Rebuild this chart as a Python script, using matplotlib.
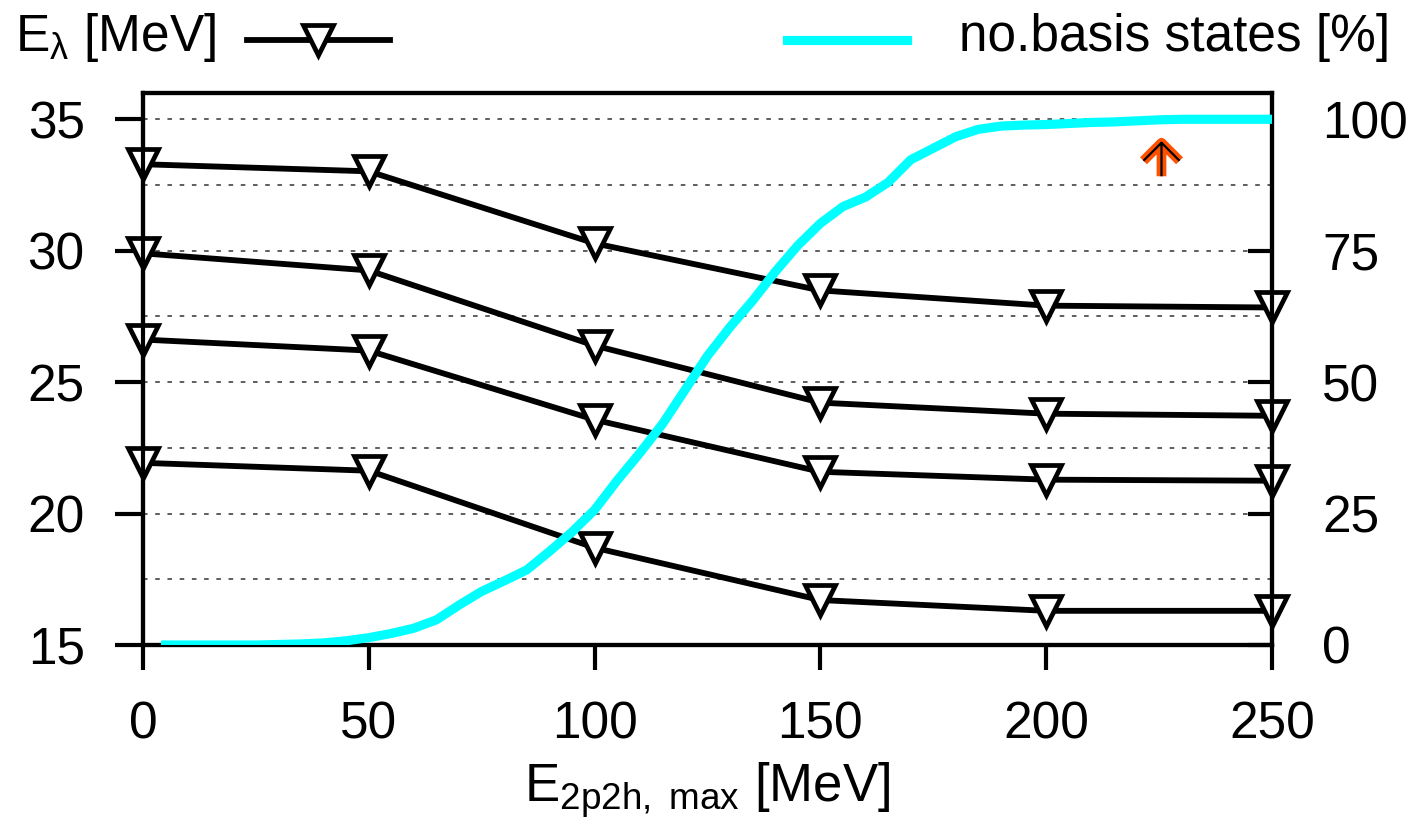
import numpy as np
import matplotlib
matplotlib.use("Agg")
import matplotlib.pyplot as plt
from matplotlib.lines import Line2D
from matplotlib.path import Path
from matplotlib.ticker import MultipleLocator

plt.rcParams['font.family'] = ['Liberation Sans', 'DejaVu Sans']
plt.rcParams['mathtext.fontset'] = 'custom'
plt.rcParams['mathtext.rm'] = 'Liberation Sans'
plt.rcParams['mathtext.it'] = 'Liberation Sans:italic'

# * Data
# eigenvalues E_lambda [MeV] vs. E_2p2h,max cut
e_cut = [0, 50, 100, 150, 200, 250]
e_lam1 = [33.29, 33.02, 30.28, 28.49, 27.91, 27.84]
e_lam2 = [29.90, 29.25, 26.39, 24.22, 23.80, 23.72]
e_lam3 = [26.62, 26.20, 23.57, 21.59, 21.29, 21.25]
e_lam4 = [21.93, 21.63, 18.70, 16.71, 16.30, 16.30]

# fraction of basis states kept [%]
basis_e = [5, 10, 15, 20, 25, 30, 35, 40, 45, 50, 55, 60, 65, 70, 75, 80, 85,
           90, 95, 100, 105, 110, 115, 120, 125, 130, 135, 140, 145, 150, 155,
           160, 165, 170, 175, 180, 185, 190, 195, 200, 205, 210, 215, 220,
           225, 230, 235, 240, 245, 250]
basis_pct = [0, 0, 0, 0, 0, 0.1, 0.2, 0.4, 0.8, 1.4, 2.2, 3.2, 4.8, 7.6, 10.2,
             12.2, 14.3, 17.8, 21.5, 25.7, 31.3, 36.5, 42.0, 48.5, 55.0, 60.5,
             65.5, 71.0, 76.0, 80.2, 83.4, 85.2, 88.0, 92.3, 94.5, 96.7, 98.1,
             98.7, 98.9, 99.0, 99.2, 99.4, 99.5, 99.7, 99.9, 100, 100, 100,
             100, 100]

# up-arrow marker at E_cut = 225
arrow_x = [225.5]
arrow_y = [33.5]

# arrow glyph: stem plus open head
arrow_path = Path([(0, -13), (0, 13), (-14, -1), (0, 13), (14, -1)],
                  [Path.MOVETO, Path.LINETO, Path.MOVETO, Path.LINETO,
                   Path.LINETO])

# * Plot
W, H = 1408, 834
fig = plt.figure(figsize=(W / 100, H / 100), dpi=100)
ax = fig.add_axes([143 / W, 1 - 645 / H, (1272 - 143) / W, (645 - 93) / H])
ax2 = ax.twinx()

ylo, yhi = 15, 36
ax.set_xlim(0, 250)
ax.set_ylim(ylo, yhi)
ax2.set_ylim((ylo - 15) * 5, (yhi - 15) * 5)

# dashed grid every 2.5 MeV
ax.yaxis.set_minor_locator(MultipleLocator(2.5))
ax.grid(axis='y', which='both', linestyle=(0, (3, 5)), color='#333333', lw=1.1)
ax.set_axisbelow(True)

for ys in (e_lam1, e_lam2, e_lam3, e_lam4):
    ax.plot(e_cut, ys, color='black', lw=4.2, marker='v', ms=21,
            mfc='white', mec='black', mew=3.4, clip_on=False, zorder=3)

ax2.plot(basis_e, basis_pct, color='#00ffff', lw=6.6, zorder=4)

ax2.plot(arrow_x, [(v - 15) * 5 for v in arrow_y], ls='none',
         marker=arrow_path, ms=26, mec='#ff5000', mfc='none', mew=7,
         zorder=5)
ax2.plot(arrow_x, [(v - 15) * 5 for v in arrow_y], ls='none',
         marker=arrow_path, ms=26, mec='black', mfc='none', mew=1.6,
         zorder=6)

# axes styling
for a in (ax, ax2):
    for s in a.spines.values():
        s.set_linewidth(3)
ax.set_xticks([0, 50, 100, 150, 200, 250])
ax.set_yticks([15, 20, 25, 30, 35])
ax2.set_yticks([0, 25, 50, 75, 100])
ax.tick_params(axis='y', which='major', direction='out', length=20, width=3,
               pad=22, labelsize=37)
ax.tick_params(axis='y', which='minor', length=0)
ax.tick_params(axis='x', direction='out', length=18, width=3, pad=22,
               labelsize=37)
ax2.tick_params(axis='y', direction='in', length=17, width=3, pad=36,
                labelsize=37)

ax.set_xlabel(r'E$_{\mathrm{2p2h,\ max}}$ [MeV]', fontsize=38, labelpad=8)

# key along the top
fig.text(15 / W, 1 - 38 / H, r'E$_{\mathrm{λ}}$ [MeV]', fontsize=37,
         ha='left', va='center')
fig.add_artist(Line2D([247 / W, 390 / W], [1 - 40 / H] * 2, color='black',
                      lw=4.2, transform=fig.transFigure))
fig.add_artist(Line2D([318 / W], [1 - 40 / H], color='black', marker='v',
                      ms=21, mfc='white', mec='black', mew=3.4,
                      transform=fig.transFigure))
fig.add_artist(Line2D([787 / W, 907 / W], [1 - 40 / H] * 2, color='#00ffff',
                      lw=6.6, transform=fig.transFigure))
fig.text(1390 / W, 1 - 38 / H, 'no.basis states [%]', fontsize=37,
         ha='right', va='center')

fig.savefig('out.png', dpi=100)
